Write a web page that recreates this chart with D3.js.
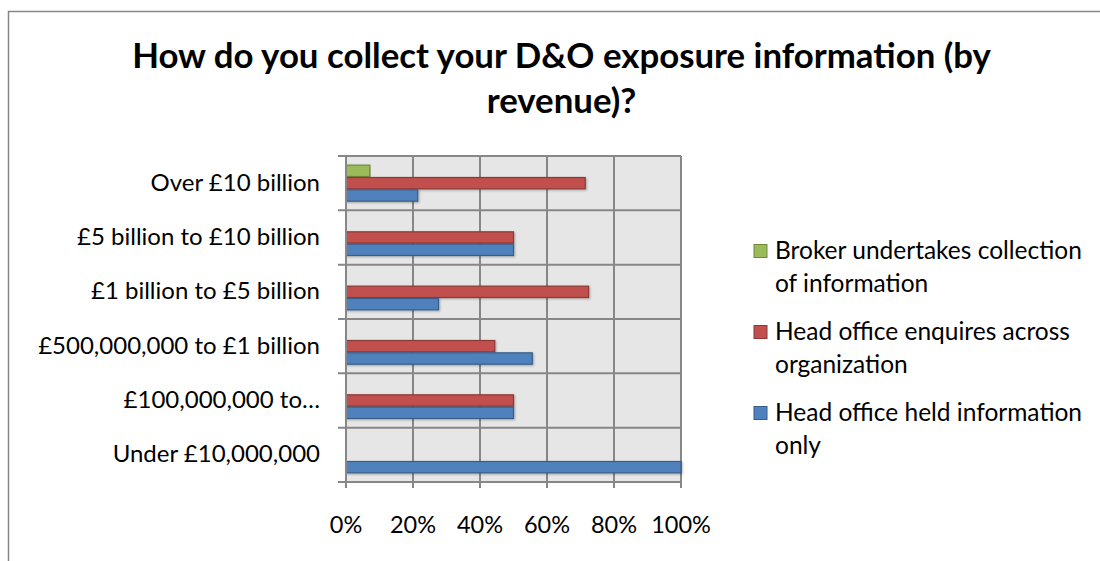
<!DOCTYPE html>
<html>
<head>
<meta charset="utf-8">
<script src="https://cdn.jsdelivr.net/npm/d3@7"></script>
<style>
  html, body { margin: 0; padding: 0; background: #fff; }
  svg { display: block; font-family: Lato, "Open Sans", sans-serif; }
</style>
</head>
<body>
<svg id="chart" width="1100" height="561"></svg>
<script>
// Revenue bands, top to bottom
const categories = [
  "Over £10 billion",
  "£5 billion to £10 billion",
  "£1 billion to £5 billion",
  "£500,000,000 to £1 billion",
  "£100,000,000 to…",
  "Under £10,000,000"
];

// Share of respondents (%) per collection method
const brokerCollects = [7.1, 0, 0, 0, 0, 0];
const headOfficeEnquires = [71.4, 50, 72.4, 44.4, 50, 0];
const headOfficeHeld = [21.4, 50, 27.6, 55.6, 50, 100];

const seriesNames = [
  ["Broker undertakes collection", "of information"],
  ["Head office enquires across", "organization"],
  ["Head office held information", "only"]
];
const seriesValues = [brokerCollects, headOfficeEnquires, headOfficeHeld];
const seriesFill = ["#9bbb59", "#c0504d", "#4f81bd"];
const seriesStroke = ["#71893f", "#8c3836", "#385d8a"];

const xTicks = [0, 20, 40, 60, 80, 100];
const xTickLabels = ["0%", "20%", "40%", "60%", "80%", "100%"];

const titleLines = ["How do you collect your D&O exposure information (by", "revenue)?"];

const svg = d3.select("#chart");

const plot = { left: 346, right: 681, top: 156, bottom: 482 };
const gridColor = "#878787";

// Outer chart frame
svg.append("rect")
  .attr("x", 8.5).attr("y", 11.5)
  .attr("width", 1200).attr("height", 700)
  .attr("fill", "#fff")
  .attr("stroke", "#868686").attr("stroke-width", 1.5);

// Title
svg.append("text")
  .attr("text-anchor", "middle")
  .attr("font-weight", "bold")
  .attr("font-size", 34.8)
  .attr("fill", "#000")
  .selectAll("tspan")
  .data(titleLines)
  .join("tspan")
  .attr("x", 561.5)
  .attr("y", (d, i) => 67.5 + i * 45.5)
  .text(d => d);

// Scales
const x = d3.scaleLinear().domain([0, 100]).range([plot.left, plot.right]);
const yCells = d3.scaleBand().domain(categories).range([plot.top, plot.bottom]).padding(0);
const y = d3.scaleBand().domain(categories).range([plot.top, plot.bottom])
  .paddingInner(0.319).paddingOuter(0.1595);
const ySeries = d3.scaleBand().domain(d3.range(seriesValues.length)).range([0, y.bandwidth()]);

// Plot background
svg.append("rect")
  .attr("x", plot.left).attr("y", plot.top)
  .attr("width", plot.right - plot.left).attr("height", plot.bottom - plot.top)
  .attr("fill", "#e6e6e6");

// Vertical gridlines
svg.append("g")
  .selectAll("line")
  .data(xTicks)
  .join("line")
  .attr("x1", d => x(d)).attr("x2", d => x(d))
  .attr("y1", plot.top).attr("y2", plot.bottom + 6)
  .attr("stroke", gridColor).attr("stroke-width", 2);

// Horizontal gridlines at category boundaries (with left tick marks)
const boundaries = categories.map(c => yCells(c)).concat([plot.bottom]);
svg.append("g")
  .selectAll("line")
  .data(boundaries)
  .join("line")
  .attr("x1", plot.left - 8).attr("x2", plot.right)
  .attr("y1", d => d).attr("y2", d => d)
  .attr("stroke", gridColor).attr("stroke-width", 2);

// Bars
const defs = svg.append("defs");
defs.append("filter").attr("id", "barShadow")
  .attr("x", "-5%").attr("y", "-30%").attr("width", "110%").attr("height", "170%")
  .append("feDropShadow")
  .attr("dx", 1).attr("dy", 1).attr("stdDeviation", 0.8)
  .attr("flood-color", "#000").attr("flood-opacity", 0.3);

const barData = [];
categories.forEach((c, ci) => {
  seriesValues.forEach((vals, si) => {
    if (vals[ci] > 0) barData.push({ category: c, series: si, value: vals[ci] });
  });
});

svg.append("g")
  .selectAll("rect")
  .data(barData)
  .join("rect")
  .attr("x", x(0))
  .attr("y", d => y(d.category) + ySeries(d.series) + 0.5)
  .attr("width", d => x(d.value) - x(0))
  .attr("height", ySeries.bandwidth() - 1)
  .attr("fill", d => seriesFill[d.series])
  .attr("stroke", d => seriesStroke[d.series])
  .attr("stroke-width", 1.2)
  .attr("filter", "url(#barShadow)");

// Left axis line
svg.append("line")
  .attr("x1", plot.left).attr("x2", plot.left)
  .attr("y1", plot.top).attr("y2", plot.bottom + 6)
  .attr("stroke", gridColor).attr("stroke-width", 2);

// Category labels
svg.append("g")
  .selectAll("text")
  .data(categories)
  .join("text")
  .attr("x", 320)
  .attr("y", d => yCells(d) + yCells.bandwidth() / 2 + 7.5)
  .attr("text-anchor", "end")
  .attr("font-size", 24)
  .attr("fill", "#000")
  .text(d => d);

// X tick labels
svg.append("g")
  .selectAll("text")
  .data(xTicks)
  .join("text")
  .attr("x", d => x(d))
  .attr("y", 532.5)
  .attr("text-anchor", "middle")
  .attr("font-size", 23.5)
  .attr("fill", "#000")
  .text((d, i) => xTickLabels[i]);

// Legend
const legend = svg.append("g");
const legendItems = legend.selectAll("g")
  .data(seriesNames)
  .join("g")
  .attr("transform", (d, i) => `translate(754, ${259 + i * 81})`);

legendItems.append("rect")
  .attr("x", 0).attr("y", -14.5)
  .attr("width", 13).attr("height", 13)
  .attr("fill", (d, i) => seriesFill[i])
  .attr("stroke", (d, i) => seriesStroke[i])
  .attr("stroke-width", 1);

legendItems.append("text")
  .attr("font-size", 24.5)
  .attr("fill", "#000")
  .selectAll("tspan")
  .data(d => d)
  .join("tspan")
  .attr("x", 21)
  .attr("y", (d, i) => i * 32.5)
  .text(d => d);
</script>
</body>
</html>
